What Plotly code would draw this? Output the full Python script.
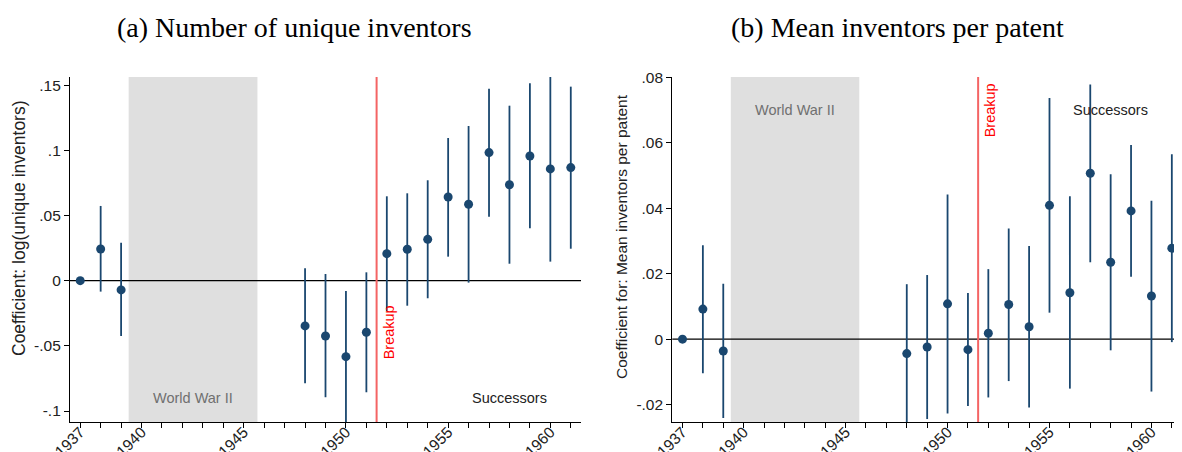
import plotly.graph_objects as go

# ---------------- data ----------------
years_a = [1937, 1938, 1939, 1948, 1949, 1950, 1951, 1952, 1953, 1954,
           1955, 1956, 1957, 1958, 1959, 1960, 1961]
coef_a = [0.0, 0.0243, -0.0071, -0.0347, -0.0424, -0.0583, -0.0396, 0.0207,
          0.0241, 0.0317, 0.0642, 0.0586, 0.0982, 0.0736, 0.0956, 0.0857, 0.0867]
hi_a = [0.0, 0.0573, 0.0291, 0.0095, 0.0051, -0.0079, 0.0064, 0.0647,
        0.0670, 0.0770, 0.1094, 0.1186, 0.1472, 0.1342, 0.1514, 0.1570, 0.1488]
lo_a = [0.0, -0.0084, -0.0424, -0.0787, -0.0894, -0.1090, -0.0856, -0.0233,
        -0.0192, -0.0135, 0.0184, -0.0015, 0.0491, 0.0130, 0.0402, 0.0146, 0.0245]

years_b = [1937, 1938, 1939, 1948, 1949, 1950, 1951, 1952, 1953, 1954,
           1955, 1956, 1957, 1958, 1959, 1960, 1961]
coef_b = [0.0, 0.0092, -0.0036, -0.0044, -0.0024, 0.0108, -0.0032, 0.0018,
          0.0106, 0.0038, 0.0409, 0.0142, 0.0507, 0.0235, 0.0392, 0.0132, 0.0278]
hi_b = [0.0, 0.0287, 0.0169, 0.0168, 0.0196, 0.0442, 0.0141, 0.0214,
        0.0338, 0.0285, 0.0737, 0.0437, 0.0778, 0.0504, 0.0593, 0.0423, 0.0565]
lo_b = [0.0, -0.0104, -0.0241, -0.0256, -0.0244, -0.0227, -0.0204, -0.0178,
        -0.0128, -0.0209, 0.0081, -0.0151, 0.0235, -0.0034, 0.0191, -0.0160, -0.0009]

tick_years = list(range(1937, 1962))
labeled_years = [1937, 1940, 1945, 1950, 1955, 1960]
tick_text = [str(y) if y in labeled_years else "" for y in tick_years]

yticks_a = [-0.1, -0.05, 0, 0.05, 0.1, 0.15]
yticks_a_text = ["-.1", "-.05", "0", ".05", ".1", ".15"]
yticks_b = [-0.02, 0, 0.02, 0.04, 0.06, 0.08]
yticks_b_text = ["-.02", "0", ".02", ".04", ".06", ".08"]

WW2_START, WW2_END = 1939.37, 1945.67
BREAKUP = 1951.5

title_a = "(a) Number of unique inventors"
title_b = "(b) Mean inventors per patent"
ytitle_a = "Coefficient: log(unique inventors)"
ytitle_b = "Coefficient for: Mean inventors per patent"

# ---------------- style ----------------
NAVY = "#1a476f"
FONT = "Liberation Sans, Arial, sans-serif"
SERIF = "Liberation Serif, Times New Roman, serif"
W, H = 1182, 452
OFF = 8  # page body margin


def px(x):
    return (x - OFF) / W


def py(y):
    return 1 - (y - OFF) / H


def ci_xy(xs, lo, hi):
    X, Y = [], []
    for x, l, h in zip(xs, lo, hi):
        X += [x, x, None]
        Y += [l, h, None]
    return X, Y


fig = go.Figure()
for xs, c, lo, hi, xa, ya in [(years_a, coef_a, lo_a, hi_a, "x", "y"),
                              (years_b, coef_b, lo_b, hi_b, "x2", "y2")]:
    X, Y = ci_xy(xs, lo, hi)
    fig.add_trace(go.Scatter(x=X, y=Y, mode="lines", xaxis=xa, yaxis=ya,
                             line=dict(color=NAVY, width=1.8), hoverinfo="skip",
                             showlegend=False))
    fig.add_trace(go.Scatter(x=xs, y=c, mode="markers", xaxis=xa, yaxis=ya,
                             marker=dict(color=NAVY, size=9), showlegend=False))

xa_dom = [px(70), px(581)]
xb_dom = [px(672.3), px(1181)]
y_dom = [py(422), py(77)]

axis_common = dict(showline=True, linecolor="black", linewidth=1.2,
                   ticks="outside", ticklen=5, tickcolor="black", tickwidth=1,
                   showgrid=False, zeroline=False, automargin=False,
                   tickfont=dict(family=FONT, size=15.5, color="#222"))
xaxis_extra = dict(tickvals=tick_years, ticktext=tick_text, tickangle=-45,
                   ticklabelstandoff=-11)

fig.update_layout(
    width=W, height=H, margin=dict(l=0, r=0, t=0, b=0, pad=0, autoexpand=False),
    showlegend=False,
    plot_bgcolor="white", paper_bgcolor="white",
    xaxis=dict(domain=xa_dom, range=[1936.5, 1961.5], anchor="y", **xaxis_extra, **axis_common),
    yaxis=dict(domain=y_dom, range=[-0.1084, 0.1562], anchor="x",
               tickvals=yticks_a, ticktext=yticks_a_text, **axis_common),
    xaxis2=dict(domain=xb_dom, range=[1936.5, 1961.45], anchor="y2", **xaxis_extra, **axis_common),
    yaxis2=dict(domain=y_dom, range=[-0.0253, 0.0801], anchor="x2",
                tickvals=yticks_b, ticktext=yticks_b_text, **axis_common),
)

shapes = []
for xr, yr in [("x", "y"), ("x2", "y2")]:
    shapes.append(dict(type="rect", xref=xr, yref=f"{yr} domain", x0=WW2_START, x1=WW2_END,
                       y0=0, y1=1, fillcolor="#dfdfdf", line=dict(width=0), layer="below"))
    shapes.append(dict(type="line", xref=f"{xr} domain", yref=yr, x0=0, x1=1, y0=0, y1=0,
                       line=dict(color="black", width=1.2), layer="below"))
    shapes.append(dict(type="line", xref=xr, yref=f"{yr} domain", x0=BREAKUP, x1=BREAKUP,
                       y0=0, y1=1, line=dict(color="#f46464", width=2), layer="below"))
fig.update_layout(shapes=shapes)

ann = []
ann.append(dict(text=title_a, xref="paper", yref="paper", x=px(294), y=py(27),
                xanchor="center", yanchor="middle",
                showarrow=False, font=dict(family=SERIF, size=28, color="black")))
ann.append(dict(text=title_b, xref="paper", yref="paper", x=px(897), y=py(27),
                xanchor="center", yanchor="middle",
                showarrow=False, font=dict(family=SERIF, size=28, color="black")))
ann.append(dict(text=ytitle_a, xref="paper", yref="paper", x=px(19), y=py(228),
                xanchor="center", yanchor="middle",
                textangle=-90, showarrow=False, font=dict(family=FONT, size=17.5, color="#222")))
ann.append(dict(text=ytitle_b, xref="paper", yref="paper", x=px(622), y=py(237),
                xanchor="center", yanchor="middle",
                textangle=-90, showarrow=False, font=dict(family=FONT, size=15.5, color="#222")))
for xr, yr, ylab, ybreak in [("x", "y", -0.0897, -0.0393), ("x2", "y2", 0.0699, 0.0699)]:
    ann.append(dict(text="World War II", xref=xr, yref=yr, x=(WW2_START + WW2_END) / 2, y=ylab,
                    showarrow=False, font=dict(family=FONT, size=14.5, color="#707070")))
    ann.append(dict(text="Successors", xref=xr, yref=yr, x=1958, y=ylab,
                    showarrow=False, font=dict(family=FONT, size=14.5, color="#222")))
    ann.append(dict(text="Breakup", xref=xr, yref=yr, x=BREAKUP + 0.58, y=ybreak, textangle=-90,
                    showarrow=False, font=dict(family=FONT, size=14.5, color="#ff0000")))
fig.update_layout(annotations=ann)

fig.write_html("out.html")
